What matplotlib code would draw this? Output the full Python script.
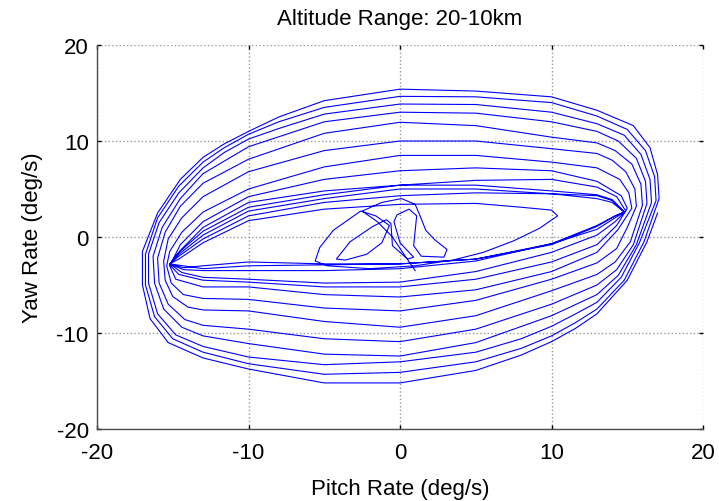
"""
Yaw rate vs pitch rate trajectory, altitude 20-10 km.
Vertices read off the reference plot by eye.
"""

import matplotlib
matplotlib.use("Agg")
import matplotlib.pyplot as plt

plt.rcParams["font.family"] = ["Liberation Sans", "DejaVu Sans"]
plt.rcParams["axes.unicode_minus"] = False

# small central scribble, then the spur out to (10.4, 2.2) and back
scribble = [
    (1.0, -3.5), (0.3, -1.9), (-0.5, 0.0), (-1.5, 1.6), (-2.5, 2.7),
    (-1.2, 3.6), (0.1, 4.0), (1.0, 3.4), (1.3, 2.3), (1.7, 0.7), (2.3, -0.3),
    (3.1, -1.3), (2.9, -2.1), (1.4, -2.0), (0.9, -0.9), (1.1, 2.2), (0.6, 2.9),
    (-0.2, 2.3), (-0.4, 1.6), (0.0, -0.6), (0.9, -2.1), (0.5, -2.3),
    (-0.5, -0.9), (-0.6, 1.4), (-0.9, 1.8), (-1.8, 1.1), (-3.3, -0.5),
    (-4.2, -2.3), (-3.6, -2.4), (-2.2, -1.8), (-1.2, -0.6), (-0.7, 1.2),
    (-1.6, 2.2), (-2.6, 2.7), (-4.4, 0.7), (-5.3, -1.1), (-5.6, -2.5),
    (-4.8, -3.0), (-2.0, -3.3), (1.0, -3.0), (3.5, -2.4), (5.5, -1.6),
    (7.5, -0.4), (9.2, 0.9), (10.4, 2.2), (10.0, 2.8),
]

lead_in = [
    (8.0, 3.1), (5.0, 3.5), (0.0, 3.4), (-5.0, 2.9), (-10.0, 1.7),
    (-13.0, -0.6), (-14.6, -2.3), (-15.2, -2.8),
    (-13.0, -3.3), (-10.0, -3.0), (-5.0, -2.9), (0.0, -2.8), (5.0, -2.3),
    (10.0, -0.8), (13.0, 1.1), (14.2, 2.2),
]

# loops, innermost first, each: right end -> top (leftwards) -> left end -> bottom
loops = [
    [(14.8, 2.6), (14.0, 3.6), (13, 4.0), (10, 4.5), (5, 4.6), (0, 4.3), (-5, 3.6),
     (-10, 2.2), (-13, -0.2), (-14.6, -2.0), (-15.2, -2.8), (-14.3, -3.2),
     (-13, -3.0), (-10, -2.6), (-5, -2.8), (0, -2.8), (5, -2.3), (10, -0.7),
     (13, 1.2), (14.2, 2.2)],
    [(14.8, 2.6), (14.0, 3.8), (13, 4.3), (10, 4.5), (5, 5.0), (0, 5.0), (-5, 4.0),
     (-10, 2.7), (-13, 0.2), (-14.6, -1.8), (-15.2, -2.8), (-14.3, -3.4),
     (-13, -3.5), (-10, -3.5), (-5, -3.5), (0, -3.3), (5, -2.5), (10, -0.7),
     (13, 0.8), (14.2, 2.0)],
    [(14.8, 2.6), (14.0, 3.9), (13, 4.4), (10, 4.8), (5, 5.4), (0, 5.4), (-5, 4.4),
     (-10, 3.1), (-13, 0.6), (-14.6, -1.6), (-15.2, -2.8), (-14.4, -3.7),
     (-13, -4.2), (-10, -4.4), (-5, -4.8), (0, -4.7), (5, -3.6), (10, -1.6),
     (13, 0.2), (14.2, 1.6)],
    [(14.9, 2.7), (14.3, 4.2), (13, 5.2), (10, 6.0), (5, 5.9), (0, 5.4), (-5, 4.8),
     (-10, 3.6), (-13, 1.0), (-14.5, -1.4), (-15.2, -2.9), (-14.6, -3.9),
     (-13, -4.5), (-10, -4.7), (-5, -5.2), (0, -5.2), (5, -4.4), (10, -2.6),
     (13, -0.8), (14.3, 1.2)],
    [(15.0, 3.0), (14.6, 4.3), (13, 5.8), (10, 6.9), (5, 7.2), (0, 6.9), (-5, 6.0),
     (-10, 4.2), (-13, 1.6), (-14.5, -0.8), (-15.2, -3.0), (-14.8, -4.4),
     (-13, -5.2), (-10, -5.2), (-5, -6.0), (0, -6.25), (5, -5.5), (10, -3.6),
     (13, -1.6), (14.4, 0.8)],
    [(15.3, 3.0), (15.1, 4.6), (14.5, 6.0), (13, 7.2), (10, 7.8), (5, 8.5), (0, 8.5),
     (-5, 7.3), (-10, 5.0), (-13, 2.6), (-14.4, 0.5), (-15.2, -1.5),
     (-15.4, -3.0), (-15.1, -4.8), (-14.3, -6.0), (-13, -6.4), (-10, -6.5),
     (-5, -7.4), (0, -7.7), (5, -6.6), (10, -4.4), (13, -2.7), (14.3, -1.2),
     (15.0, 1.0)],
    [(15.6, 3.2), (15.5, 5.0), (14.9, 6.8), (14.0, 8.0), (13, 8.7), (10, 9.2),
     (5, 10.0), (0, 10.0), (-5, 9.0), (-10, 6.8), (-13, 4.2), (-14.4, 2.0),
     (-15.3, -0.2), (-15.6, -2.5), (-15.5, -4.5), (-15.0, -6.2), (-14.0, -7.3),
     (-13, -7.6), (-10, -7.7), (-5, -8.8), (0, -9.4), (5, -8.2), (10, -5.6),
     (13, -3.9), (14.2, -2.6), (15.2, -0.5)],
    [(16.0, 3.3), (15.9, 5.5), (15.3, 7.6), (14.2, 9.0), (13, 9.8), (10, 10.4),
     (5, 11.6), (0, 11.95), (-5, 10.8), (-10, 8.1), (-13, 5.6), (-14.5, 3.2),
     (-15.5, 0.5), (-16.0, -2.2), (-15.9, -4.8), (-15.3, -7.0), (-14.2, -8.6),
     (-13, -9.2), (-10, -9.6), (-5, -10.6), (0, -10.9), (5, -9.6), (10, -7.0),
     (13, -5.0), (14.3, -3.4), (15.4, -0.8)],
    [(16.3, 3.5), (16.2, 5.8), (15.6, 8.2), (14.4, 10.0), (13, 11.0), (10, 12.0),
     (5, 12.9), (0, 13.0), (-5, 12.0), (-10, 9.4), (-13, 6.6), (-14.5, 4.0),
     (-15.7, 1.0), (-16.3, -2.0), (-16.2, -4.8), (-15.6, -7.5), (-14.4, -9.4),
     (-13, -10.3), (-10, -11.1), (-5, -12.2), (0, -12.4), (5, -11.0), (10, -8.2),
     (13, -6.0), (14.4, -4.0), (15.6, -0.8)],
    [(16.6, 3.6), (16.5, 6.0), (15.9, 8.6), (14.8, 10.6), (13, 11.8), (10, 13.0),
     (5, 13.8), (0, 13.85), (-5, 12.8), (-8, 11.3), (-10, 10.2), (-11.6, 8.8),
     (-13, 7.2), (-14.6, 4.6), (-15.9, 1.5), (-16.6, -1.8), (-16.6, -4.8),
     (-16.0, -8.0), (-14.8, -10.2), (-13, -11.4), (-10, -12.5), (-5, -13.3),
     (0, -13.0), (5, -12.0), (8, -10.6), (10, -9.3), (11.6, -8.0), (13, -6.8),
     (14.6, -4.2), (15.8, -0.6)],
    [(16.9, 3.8), (16.8, 6.3), (16.2, 9.0), (15.0, 11.2), (13, 12.6), (10, 14.0),
     (5, 14.6), (0, 14.65), (-5, 13.5), (-8, 12.0), (-10, 10.7), (-11.6, 9.3),
     (-13, 7.8), (-14.6, 5.3), (-16.0, 2.0), (-16.8, -1.8), (-16.8, -5.0),
     (-16.2, -8.3), (-15.0, -10.6), (-13, -12.0), (-10, -13.2), (-5, -14.3),
     (0, -14.1), (5, -13.0), (8, -11.6), (10, -10.3), (11.6, -8.9), (13, -7.5),
     (14.8, -4.5), (16.1, -0.5)],
    [(17.1, 4.0), (17.0, 6.5), (16.5, 9.3), (15.4, 11.6), (13, 13.2), (10, 14.6),
     (5, 15.2), (0, 15.4), (-5, 14.2), (-8, 12.5), (-10, 11.0), (-11.6, 9.7),
     (-13, 8.3), (-14.5, 6.0), (-16.0, 2.5), (-17.0, -1.5), (-17.0, -5.0),
     (-16.5, -8.5), (-15.3, -11.0), (-13, -12.6), (-10, -13.75), (-5, -15.2),
     (0, -15.2), (5, -13.9), (8, -12.3), (10, -10.9), (11.6, -9.5), (13, -8.0),
     (15.0, -4.5), (16.3, -0.5), (17.0, 2.5)],
]

ticks = [-20, -10, 0, 10, 20]

path = scribble + lead_in
for loop in loops:
    path = path + loop
xs = [p[0] for p in path]
ys = [p[1] for p in path]

fig = plt.figure(figsize=(7.19, 5.02), dpi=100)
ax = fig.add_axes([0.1349, 0.1434, 0.8429, 0.765])

ax.plot(xs, ys, color="#0000ff", linewidth=0.8)

ax.set_xlim(-20, 20)
ax.set_ylim(-20, 20)
ax.set_xticks(ticks)
ax.set_yticks(ticks)
ax.set_axisbelow(True)
ax.grid(True, linestyle=":", color="0.6", linewidth=1.0)

for side in ["top", "right"]:
    ax.spines[side].set_visible(False)
for side in ["left", "bottom"]:
    ax.spines[side].set_color("0.3")
    ax.spines[side].set_linewidth(1.0)

ax.tick_params(direction="in", length=3, width=1, labelsize=16, pad=6,
               top=True, right=True, colors="black")
ax.tick_params(axis="x", pad=9)

ax.set_xlabel("Pitch Rate (deg/s)", fontsize=16, labelpad=11)
ax.set_ylabel("Yaw Rate (deg/s)", fontsize=16, labelpad=10)
ax.set_title("Altitude Range: 20-10km", fontsize=16, pad=15)

fig.savefig("out.png", dpi=100)
